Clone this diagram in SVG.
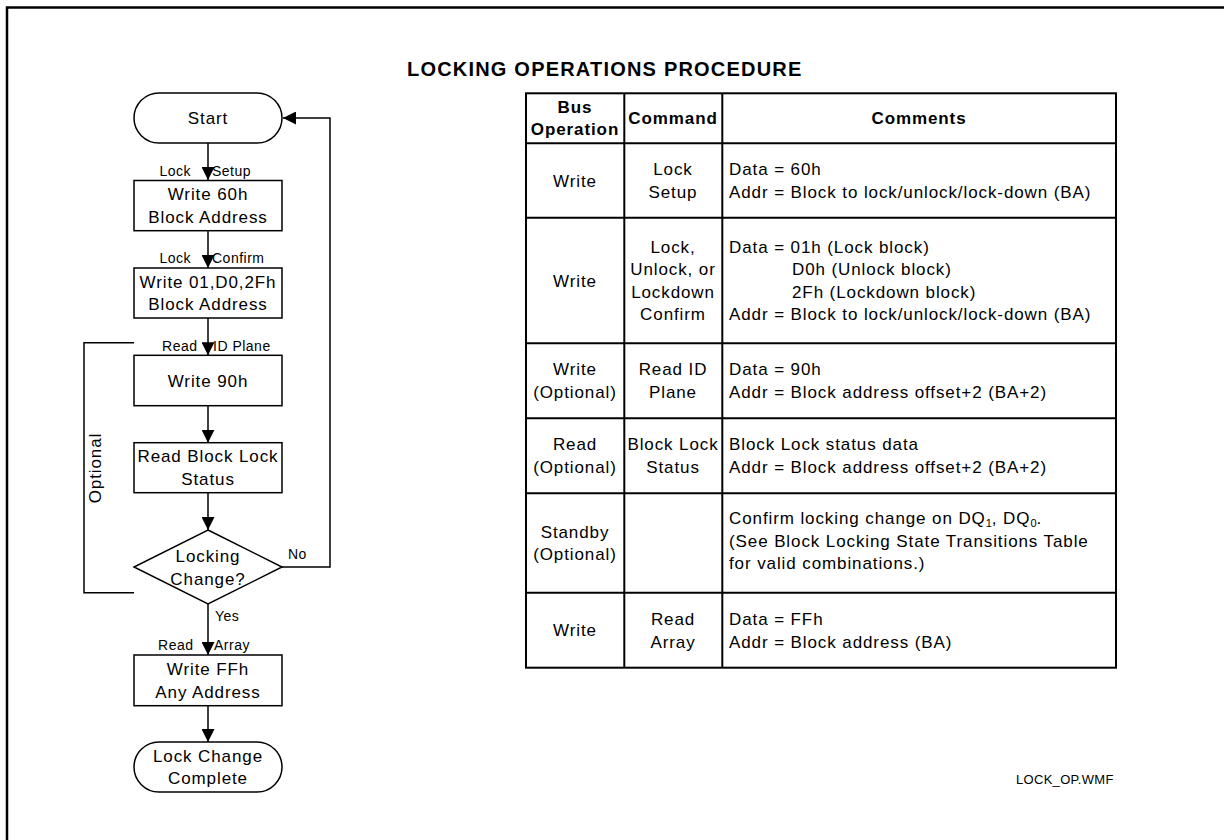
<svg xmlns="http://www.w3.org/2000/svg" width="1226" height="840" viewBox="0 0 1226 840">
<defs>
<style>
text{font-family:"Liberation Sans",Arial,sans-serif;fill:#000}
.t{font-size:17px;letter-spacing:0.9px}
.c{text-anchor:middle}
.b{font-weight:bold}
.lbl{font-size:14px;letter-spacing:0.5px}
.shape{fill:#fff;stroke:#000;stroke-width:1.5}
.ln{fill:none;stroke:#000;stroke-width:1.5}
.tb{fill:none;stroke:#000;stroke-width:2}
</style>
<marker id="ah" markerUnits="userSpaceOnUse" markerWidth="13" markerHeight="13" viewBox="0 0 12 12" refX="12" refY="6" orient="auto">
<path d="M0,0 L12,6 L0,12 Z" fill="#000"/>
</marker>
</defs>
<rect width="1226" height="840" fill="#fff"/>
<path d="M7,845 V7.5 H1224" fill="none" stroke="#000" stroke-width="2.5"/>

<text x="407" y="76" class="b" style="font-size:20px;letter-spacing:1.2px">LOCKING OPERATIONS PROCEDURE</text>

<g id="connectors">
<line class="ln" x1="208" y1="143" x2="208" y2="180" marker-end="url(#ah)"/>
<line class="ln" x1="208" y1="230.7" x2="208" y2="268" marker-end="url(#ah)"/>
<line class="ln" x1="208" y1="318" x2="208" y2="355.3" marker-end="url(#ah)"/>
<line class="ln" x1="208" y1="405.7" x2="208" y2="442.7" marker-end="url(#ah)"/>
<line class="ln" x1="208" y1="492.7" x2="208" y2="530" marker-end="url(#ah)"/>
<line class="ln" x1="208" y1="604" x2="208" y2="655" marker-end="url(#ah)"/>
<line class="ln" x1="208" y1="705.7" x2="208" y2="742" marker-end="url(#ah)"/>
<polyline class="ln" points="282,567 330,567 330,118 283,118" marker-end="url(#ah)"/>
<polyline class="ln" points="134,342.7 84,342.7 84,592.7 134,592.7"/>
<text x="101" y="468" class="t c" transform="rotate(-90 101 468)">Optional</text>
<text x="191" y="176" class="lbl" text-anchor="end">Lock</text>
<text x="212" y="176" class="lbl">Setup</text>
<text x="191" y="263.3" class="lbl" text-anchor="end">Lock</text>
<text x="212" y="263.3" class="lbl">Confirm</text>
<text x="197.5" y="350.7" class="lbl" text-anchor="end">Read</text>
<text x="213" y="350.7" class="lbl">ID Plane</text>
<text x="288" y="559" class="lbl">No</text>
<text x="215" y="620.7" class="lbl">Yes</text>
<text x="193.5" y="650" class="lbl" text-anchor="end">Read</text>
<text x="214" y="650" class="lbl">Array</text>
</g>

<g id="start">
<rect class="shape" x="134" y="93" width="148" height="50" rx="25" ry="25"/>
<text x="208" y="124" class="t c">Start</text>
</g>
<g id="write60">
<rect class="shape" x="134" y="180.5" width="148" height="50.2"/>
<text x="208" y="200" class="t c">Write 60h</text>
<text x="208" y="222.5" class="t c">Block Address</text>
</g>
<g id="write01">
<rect class="shape" x="134" y="268" width="148" height="50"/>
<text x="208" y="287.5" class="t c">Write 01,D0,2Fh</text>
<text x="208" y="310" class="t c">Block Address</text>
</g>
<g id="write90">
<rect class="shape" x="134" y="355.3" width="148" height="50.4"/>
<text x="208" y="386.5" class="t c">Write 90h</text>
</g>
<g id="readstatus">
<rect class="shape" x="134" y="442.7" width="148" height="50"/>
<text x="208" y="462" class="t c">Read Block Lock</text>
<text x="208" y="484.5" class="t c">Status</text>
</g>
<g id="decision">
<polygon class="shape" points="208,530 282,567 208,604 134,567"/>
<text x="208" y="562" class="t c">Locking</text>
<text x="208" y="584.5" class="t c">Change?</text>
</g>
<g id="writeFF">
<rect class="shape" x="134" y="655" width="148" height="50.7"/>
<text x="208" y="675" class="t c">Write FFh</text>
<text x="208" y="697.5" class="t c">Any Address</text>
</g>
<g id="end">
<rect class="shape" x="134" y="742" width="148" height="50" rx="25" ry="25"/>
<text x="208" y="761.5" class="t c">Lock Change</text>
<text x="208" y="784" class="t c">Complete</text>
</g>

<g id="table">
<rect class="tb" x="526" y="93.3" width="590" height="574.4"/>
<line class="tb" x1="624.3" y1="93.3" x2="624.3" y2="667.7"/>
<line class="tb" x1="722.3" y1="93.3" x2="722.3" y2="667.7"/>
<line class="tb" x1="526" y1="143.3" x2="1116" y2="143.3"/>
<line class="tb" x1="526" y1="217.7" x2="1116" y2="217.7"/>
<line class="tb" x1="526" y1="343.3" x2="1116" y2="343.3"/>
<line class="tb" x1="526" y1="418.3" x2="1116" y2="418.3"/>
<line class="tb" x1="526" y1="493.3" x2="1116" y2="493.3"/>
<line class="tb" x1="526" y1="592.7" x2="1116" y2="592.7"/>

<text x="575" y="112.5" class="t c b">Bus</text>
<text x="575" y="135" class="t c b">Operation</text>
<text x="673" y="124" class="t c b">Command</text>
<text x="919" y="124" class="t c b">Comments</text>

<text x="575" y="186.5" class="t c">Write</text>
<text x="673" y="175" class="t c">Lock</text>
<text x="673" y="197.5" class="t c">Setup</text>
<text x="729" y="175" class="t">Data = 60h</text>
<text x="729" y="197.5" class="t">Addr = Block to lock/unlock/lock-down (BA)</text>

<text x="575" y="286.5" class="t c">Write</text>
<text x="673" y="252.8" class="t c">Lock,</text>
<text x="673" y="275.3" class="t c">Unlock, or</text>
<text x="673" y="297.8" class="t c">Lockdown</text>
<text x="673" y="320.3" class="t c">Confirm</text>
<text x="729" y="252.8" class="t">Data = 01h (Lock block)</text>
<text x="792" y="275.3" class="t">D0h (Unlock block)</text>
<text x="792" y="297.8" class="t">2Fh (Lockdown block)</text>
<text x="729" y="320.3" class="t">Addr = Block to lock/unlock/lock-down (BA)</text>

<text x="575" y="375" class="t c">Write</text>
<text x="575" y="397.5" class="t c">(Optional)</text>
<text x="673" y="375" class="t c">Read ID</text>
<text x="673" y="397.5" class="t c">Plane</text>
<text x="729" y="375" class="t">Data = 90h</text>
<text x="729" y="397.5" class="t">Addr = Block address offset+2 (BA+2)</text>

<text x="575" y="450" class="t c">Read</text>
<text x="575" y="472.5" class="t c">(Optional)</text>
<text x="673" y="450" class="t c">Block Lock</text>
<text x="673" y="472.5" class="t c">Status</text>
<text x="729" y="450" class="t">Block Lock status data</text>
<text x="729" y="472.5" class="t">Addr = Block address offset+2 (BA+2)</text>

<text x="575" y="537.5" class="t c">Standby</text>
<text x="575" y="560" class="t c">(Optional)</text>
<text x="729" y="524" class="t">Confirm locking change on DQ<tspan font-size="11" dy="3" letter-spacing="0">1</tspan><tspan dy="-3">, DQ</tspan><tspan font-size="11" dy="3" letter-spacing="0">0</tspan><tspan dy="-3">.</tspan></text>
<text x="729" y="546.5" class="t">(See Block Locking State Transitions Table</text>
<text x="729" y="569" class="t">for valid combinations.)</text>

<text x="575" y="636" class="t c">Write</text>
<text x="673" y="625" class="t c">Read</text>
<text x="673" y="647.5" class="t c">Array</text>
<text x="729" y="625" class="t">Data = FFh</text>
<text x="729" y="647.5" class="t">Addr = Block address (BA)</text>
</g>

<text x="1016" y="784" style="font-size:13px;letter-spacing:0.3px">LOCK_OP.WMF</text>
</svg>
